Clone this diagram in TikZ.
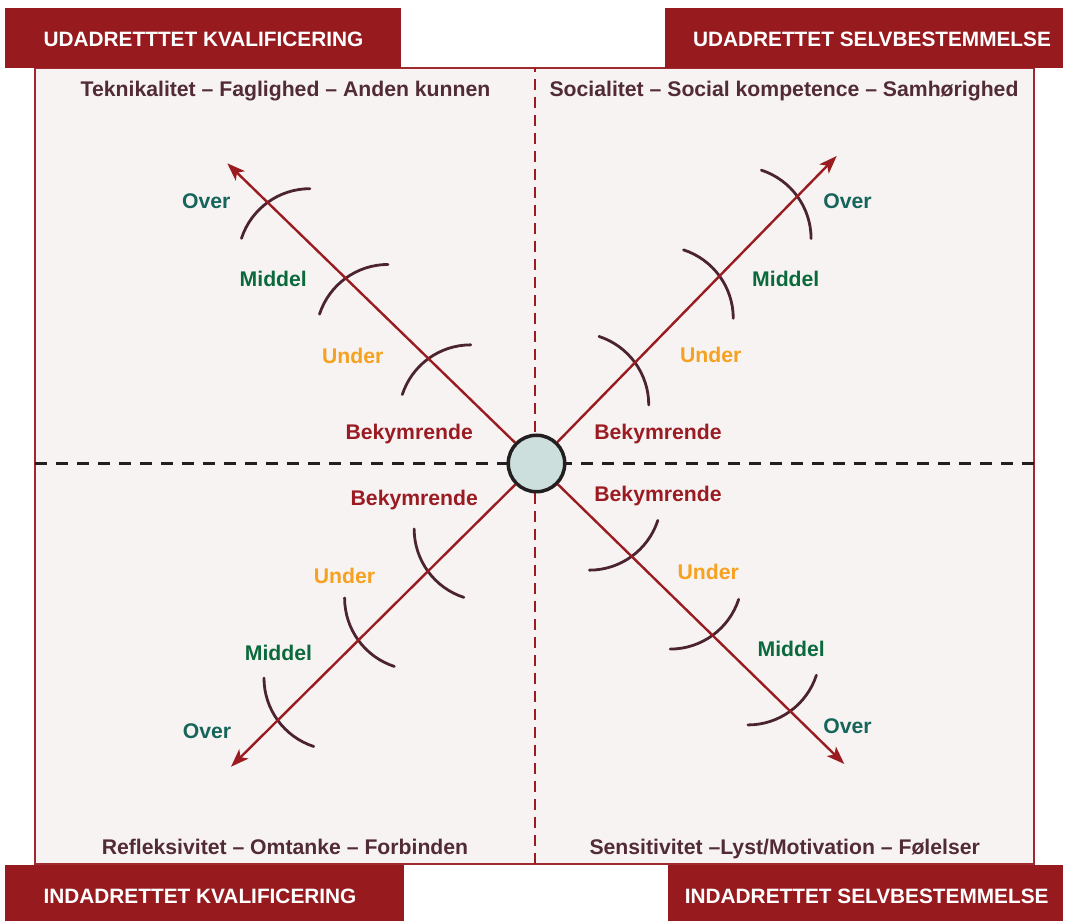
\documentclass[tikz,border=0pt]{standalone}
\usepackage{fontspec}
\setmainfont{Liberation Sans}
\usetikzlibrary{calc,arrows.meta}
\definecolor{hdr}{HTML}{961A1E}
\definecolor{boxfill}{HTML}{F8F3F3}
\definecolor{boxline}{HTML}{9E2A2F}
\definecolor{ttl}{HTML}{512B35}
\definecolor{arcc}{HTML}{4B2430}
\definecolor{arrc}{HTML}{9A1B20}
\definecolor{overc}{HTML}{16655A}
\definecolor{midc}{HTML}{0B6A3C}
\definecolor{underc}{HTML}{F6A11F}
\definecolor{bekc}{HTML}{9A1C22}
\definecolor{circfill}{HTML}{CCDFDC}
\definecolor{circline}{HTML}{231F20}
\begin{document}
\begin{tikzpicture}[x=1pt,y=1pt,
  hdrbox/.style={fill=hdr,draw=none},
  hdrtext/.style={text=white,font=\fontsize{20.8}{24}\selectfont\bfseries,anchor=base,inner sep=0pt},
  ttltext/.style={text=ttl,font=\fontsize{21.2}{25}\selectfont\bfseries,anchor=base,inner sep=0pt},
  lbl/.style={font=\fontsize{21.2}{25}\selectfont\bfseries,anchor=base,inner sep=0pt},
  overl/.style={lbl,text=overc},
  midl/.style={lbl,text=midc},
  underl/.style={lbl,text=underc},
  bekl/.style={lbl,text=bekc},
  axisarrow/.style={draw=arrc,line width=2.4pt,-{Stealth[length=18pt,width=13pt,inset=4.5pt]}},
  levelarc/.style={draw=arcc,line width=2.8pt,line cap=round},
]
\useasboundingbox (0,0) rectangle (1066,921);
\fill[white] (0,0) rectangle (1066,921);
% main box
\draw[fill=boxfill,draw=boxline,line width=1.5pt] (35,57) rectangle (1034,853);
% dividers
\draw[draw=arrc,line width=2.8pt,dash pattern=on 11pt off 7pt] (535,57) -- (535,853);
\draw[draw=circline,line width=2.6pt,dash pattern=on 12pt off 9pt] (35,457.5) -- (1034,457.5);
% headers
\fill[hdrbox] (5,853) rectangle (401,913);
\fill[hdrbox] (665,853) rectangle (1063,913);
\fill[hdrbox] (5,0) rectangle (404,56);
\fill[hdrbox] (668,0) rectangle (1063,56);
\node[hdrtext] (h1) at (203.5,874) {UDADRETTTET KVALIFICERING};
\node[hdrtext] (h2) at (872,874) {UDADRETTET SELVBESTEMMELSE};
\node[hdrtext] (h3) at (200,17) {INDADRETTET KVALIFICERING};
\node[hdrtext] (h4) at (866.7,17) {INDADRETTET SELVBESTEMMELSE};
% titles
\node[ttltext] (t1) at (285.5,824) {Teknikalitet – Faglighed – Anden kunnen};
\node[ttltext] (t2) at (784,824) {Socialitet – Social kompetence – Samhørighed};
\node[ttltext] (t3) at (285,66.7) {Refleksivitet – Omtanke – Forbinden};
\node[ttltext] (t4) at (784.7,66.7) {Sensitivitet –Lyst/Motivation – Følelser};
% center and tips
\coordinate (cc) at (536.5,457.5);
\coordinate (tl) at (227.3,757.7);
\coordinate (tr) at (836.7,765);
\coordinate (bl) at (231,154.3);
\coordinate (br) at (844.3,157);
% arcs
\foreach \tip/\ang/\da/\db/\dc in {tl/135/150.6/266/374.8, tr/45/141/262/373.4, bl/225/153/251/364.6, br/315/133/246/354.6}{
  \foreach \d in {\da,\db,\dc}{
    \draw[levelarc] ($(cc)!\d pt!(\tip)$) ++({\ang+171}:72) ++({\ang-45}:72)
      arc[start angle={\ang-45}, end angle={\ang+27}, radius=72pt];
  }
}
\node[circle,fill=circfill,draw=circline,line width=3.5pt,minimum size=56.5pt,inner sep=0pt] (c) at (cc) {};
\draw[axisarrow] (c) -- (tl);
\draw[axisarrow] (c) -- (tr);
\draw[axisarrow] (c) -- (bl);
\draw[axisarrow] (c) -- (br);
% labels TL
\node[overl] (l1) at (206.3,712) {Over};
\node[midl] (l2) at (273.3,634.3) {Middel};
\node[underl] (l3) at (352.7,557) {Under};
\node[bekl] (l4) at (409.2,481) {Bekymrende};
% labels TR
\node[overl] (l5) at (847.5,712) {Over};
\node[midl] (l6) at (785.8,634.3) {Middel};
\node[underl] (l7) at (710.8,558.3) {Under};
\node[bekl] (l8) at (658,481) {Bekymrende};
% labels BL
\node[bekl] (l9) at (414.3,415) {Bekymrende};
\node[underl] (l10) at (344.5,337.7) {Under};
\node[midl] (l11) at (278.5,260.3) {Middel};
\node[overl] (l12) at (207,182) {Over};
% labels BR
\node[bekl] (l13) at (658,419.3) {Bekymrende};
\node[underl] (l14) at (708.2,341.7) {Under};
\node[midl] (l15) at (791.2,264.3) {Middel};
\node[overl] (l16) at (847.5,187) {Over};
\end{tikzpicture}
\end{document}
